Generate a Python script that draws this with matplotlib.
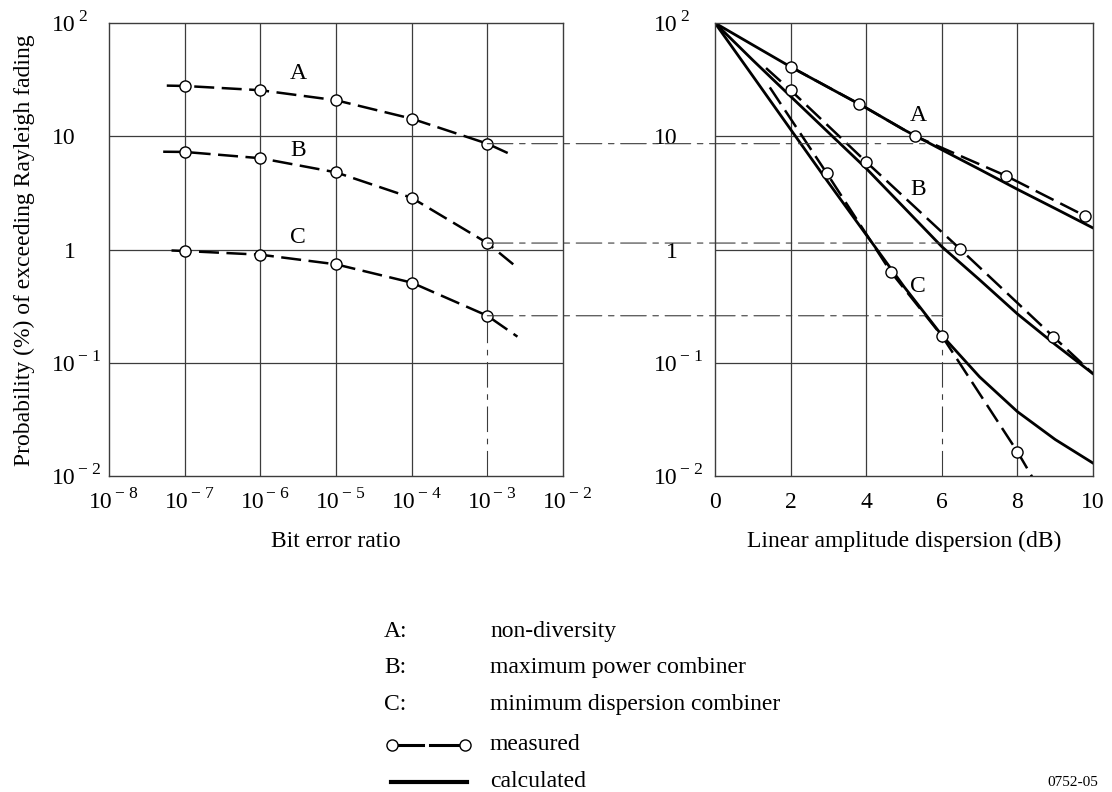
import numpy as np
from matplotlib import pyplot as plt
from matplotlib.patches import ConnectionPatch
from matplotlib.transforms import offset_copy
from matplotlib.lines import Line2D

plt.rcParams['font.family'] = ['Liberation Serif', 'DejaVu Serif']

# =====================================================
# Left plot - measured probability vs bit error ratio
berTicks = [1e-7, 1e-6, 1e-5, 1e-4, 1e-3]
berA = [5.8e-8, 1e-7, 1e-6, 1e-5, 1e-4, 1e-3, 2.26e-3]
probA = [28, 27.8, 25.5, 20.8, 14.3, 8.6, 6.7]
berB = [5.2e-8, 1e-7, 1e-6, 1e-5, 1e-4, 1e-3, 2.2e-3]
probB = [7.3, 7.27, 6.4, 4.8, 2.86, 1.14, 0.74]
berC = [6.7e-8, 1e-7, 1e-6, 1e-5, 1e-4, 1e-3, 2.5e-3]
probC = [0.98, 0.97, 0.90, 0.74, 0.51, 0.26, 0.17]

# Right plot - calculated curves
dispCalc = [0, 1, 2, 3, 4, 5, 6, 7, 8, 9, 10]
calcA = [100, 64, 41, 27, 17.8, 11.4, 7.6, 5.1, 3.4, 2.3, 1.55]
calcB = [100, 47, 22.5, 10.8, 5.2, 2.35, 1.06, 0.54, 0.27, 0.145, 0.08]
calcC = [100, 34, 11.5, 3.9, 1.35, 0.47, 0.175, 0.075, 0.037, 0.021, 0.013]

# Right plot - measured curves (first/last entries are line ends, no circle)
dispMeasA = [2.0, 3.8, 5.3, 7.7, 9.8]
measA = [41, 19.4, 10.0, 4.47, 1.97]
dispMeasB = [1.35, 2.0, 4.0, 6.47, 8.95, 10.0]
measB = [40, 25.5, 5.94, 1.02, 0.17, 0.08]
dispMeasC = [1.45, 2.96, 4.65, 6.0, 8.0, 8.5]
measC = [27, 4.7, 0.635, 0.173, 0.0164, 0.0085]

# where the dash-dot links end on the right plot
linkLevels = [8.6, 1.14, 0.26]
linkEnds = [5.7, 6.3, 6.0]

yTicks = [1e-2, 1e-1, 1, 10, 1e2]
yLabels = [("10", "\u2212 2"), ("10", "\u2212 1"), ("1", ""), ("10", ""), ("10", "2")]
xLabelsLeft = [("10", "\u2212 " + str(k)) for k in [8, 7, 6, 5, 4, 3, 2]]
xTicksLeft = [1e-8, 1e-7, 1e-6, 1e-5, 1e-4, 1e-3, 1e-2]
xTicksRight = [0, 2, 4, 6, 8, 10]

W, H = 1112, 792
FS = 17
SUPFS = 12.5
gridCol = '#3c3c3c'
linkStyle = (0, (23, 6, 5, 6))
measStyle = (0, (8, 3))

fig = plt.figure(figsize=(W / 100, H / 100), dpi=100)
ax1 = fig.add_axes([109 / W, 1 - 476 / H, 454 / W, 453 / H])
ax2 = fig.add_axes([715 / W, 1 - 476 / H, 378 / W, 453 / H])

ax1.set_xscale('log')
ax1.set_xlim(1e-8, 1e-2)
ax2.set_xlim(0, 10)


def powLabel(ax, trans, x, y, base, sup, dx, dy):
    t1 = offset_copy(trans, fig=fig, x=dx, y=dy, units='dots')
    ax.text(x, y, base, transform=t1, ha='right', va='baseline', fontsize=FS)
    if sup:
        t2 = offset_copy(trans, fig=fig, x=dx + 2, y=dy + 10, units='dots')
        ax.text(x, y, sup, transform=t2, ha='left', va='baseline', fontsize=SUPFS)


def cFrac(v):
    return (np.log10(v) + 2) / 4


for ax in [ax1, ax2]:
    ax.set_yscale('log')
    ax.set_ylim(1e-2, 1e2)
    ax.set_xticks([])
    ax.set_yticks([])
    ax.set_xticks([], minor=True)
    ax.set_yticks([], minor=True)
    for s in ax.spines.values():
        s.set_color(gridCol)
        s.set_linewidth(1.0)
    for v in [1e-1, 1, 10]:
        ax.axhline(v, color=gridCol, lw=0.9, zorder=1)
    for v, (b, s) in zip(yTicks, yLabels):
        powLabel(ax, ax.get_yaxis_transform(), 0, v, b, s, -33 if ax is ax1 else -37, -8)

# LEFT =============================================
for v in berTicks[:-1]:
    ax1.axvline(v, color=gridCol, lw=0.9, zorder=1)
ax1.axvline(1e-3, ymin=cFrac(0.26), ymax=1, color=gridCol, lw=0.9, zorder=1)
ax1.plot([1e-3, 1e-3], [0.01, 0.26], color=gridCol, lw=0.8, ls=linkStyle, zorder=1)
for v, (b, s) in zip(xTicksLeft, xLabelsLeft):
    powLabel(ax1, ax1.get_xaxis_transform(), v, 0, b, s, 4, -32)

for xs, ys in [(berA, probA), (berB, probB), (berC, probC)]:
    ax1.plot(xs, ys, color='black', lw=1.8, ls=measStyle, marker='o', ms=8,
             mfc='white', mec='black', mew=1.0, markevery=[1, 2, 3, 4, 5], zorder=3)

ax1.text(10 ** -5.5, 36, "A", fontsize=FS, ha='center', va='center')
ax1.text(10 ** -5.5, 7.5, "B", fontsize=FS, ha='center', va='center')
ax1.text(10 ** -5.5, 1.28, "C", fontsize=FS, ha='center', va='center')

# RIGHT =============================================
for v in [2, 4, 8]:
    ax2.axvline(v, color=gridCol, lw=0.9, zorder=1)
ax2.axvline(6, ymin=cFrac(0.26), ymax=1, color=gridCol, lw=0.9, zorder=1)
ax2.plot([6, 6], [0.01, 0.26], color=gridCol, lw=0.8, ls=linkStyle, zorder=1)
for v in xTicksRight:
    t = offset_copy(ax2.get_xaxis_transform(), fig=fig, x=0, y=-32, units='dots')
    ax2.text(v, 0, str(v), transform=t, ha='center', va='baseline', fontsize=FS)

for ys in [calcA, calcB, calcC]:
    ax2.plot(dispCalc, ys, color='black', lw=2.0, solid_joinstyle='round', zorder=2)

ax2.plot(dispMeasA, measA, color='black', lw=1.8, ls=measStyle, marker='o', ms=8,
         mfc='white', mec='black', mew=1.0, zorder=3)
ax2.plot(dispMeasB, measB, color='black', lw=1.8, ls=measStyle, marker='o', ms=8,
         mfc='white', mec='black', mew=1.0, markevery=[1, 2, 3, 4], zorder=3)
ax2.plot(dispMeasC, measC, color='black', lw=1.8, ls=measStyle, marker='o', ms=8,
         mfc='white', mec='black', mew=1.0, markevery=[1, 2, 3, 4], zorder=3)

ax2.text(5.38, 15.3, "A", fontsize=FS, ha='center', va='center')
ax2.text(5.38, 3.4, "B", fontsize=FS, ha='center', va='center')
ax2.text(5.38, 0.47, "C", fontsize=FS, ha='center', va='center')

# dash-dot links between the two plots
for lev, xe in zip(linkLevels, linkEnds):
    con = ConnectionPatch(xyA=(1e-3, lev), coordsA=ax1.transData,
                          xyB=(xe, lev), coordsB=ax2.transData,
                          color=gridCol, lw=0.8, ls=linkStyle, zorder=1)
    fig.add_artist(con)

# Labels =============================================
fig.text(24 / W, 1 - 250 / H, "Probability (%) of exceeding Rayleigh fading",
         rotation=90, ha='center', va='center', fontsize=FS)
fig.text(336 / W, 1 - 547 / H, "Bit error ratio", ha='center', va='baseline', fontsize=FS)
fig.text(904 / W, 1 - 547 / H, "Linear amplitude dispersion (dB)", ha='center',
         va='baseline', fontsize=FS)

# Key below the plots
keyLetters = ["A:", "B:", "C:"]
keyNames = ["non-diversity", "maximum power combiner", "minimum dispersion combiner"]
keyRows = [637, 673, 710]
for k, n, r in zip(keyLetters, keyNames, keyRows):
    fig.text(384 / W, 1 - r / H, k, ha='left', va='baseline', fontsize=FS)
    fig.text(490 / W, 1 - r / H, n, ha='left', va='baseline', fontsize=FS)

fig.add_artist(Line2D([392 / W, 423 / W], [1 - 745 / H] * 2, color='black', lw=2.2))
fig.add_artist(Line2D([430 / W, 465 / W], [1 - 745 / H] * 2, color='black', lw=2.2))
fig.add_artist(Line2D([392 / W], [1 - 745 / H], marker='o', ms=8, mfc='white', mec='black', mew=1.0))
fig.add_artist(Line2D([465 / W], [1 - 745 / H], marker='o', ms=8, mfc='white', mec='black', mew=1.0))
fig.text(490 / W, 1 - 750 / H, "measured", ha='left', va='baseline', fontsize=FS)

fig.add_artist(Line2D([391 / W, 467 / W], [1 - 782 / H] * 2, color='black', lw=3.0))
fig.text(490 / W, 1 - 787 / H, "calculated", ha='left', va='baseline', fontsize=FS)

fig.text(1098 / W, 1 - 786 / H, "0752-05", ha='right', va='baseline', fontsize=11)

fig.savefig("out.png", dpi=100)
